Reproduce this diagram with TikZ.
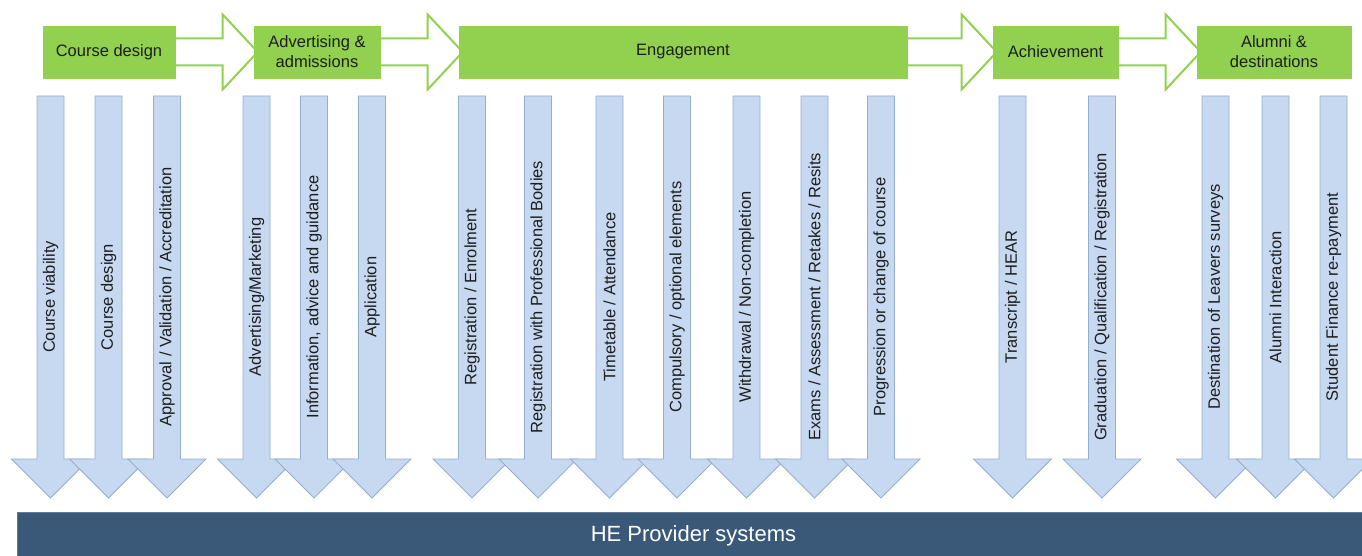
\documentclass[tikz,border=0pt]{standalone}
\usepackage{fontspec}
\setmainfont{Liberation Sans}
\usetikzlibrary{calc,backgrounds}
\definecolor{grn}{HTML}{92D050}
\definecolor{bfill}{HTML}{C6D9F1}
\definecolor{bline}{HTML}{94AECF}
\definecolor{navy}{HTML}{3A5878}
\definecolor{txt}{HTML}{1E1E1E}
\tikzset{
  stage/.style={fill=grn, draw=grn, line width=0.6pt, minimum height=52pt, inner sep=0pt,
    font=\fontsize{16.5}{20}\selectfont, text=txt, align=center},
  flow/.style={draw=grn, fill=white, line width=2pt, line join=miter},
  barrow/.style={draw=bline, fill=bfill, line width=0.8pt},
  blabel/.style={rotate=90, inner sep=0pt, font=\fontsize{16.5}{20}\selectfont, text=txt},
  base/.style={fill=navy, draw=navy!80!white, minimum width=1353pt, minimum height=48pt,
    inner sep=0pt, text=white, font=\fontsize{22}{26}\selectfont}
}
\newcommand{\blockarrow}[3]{%
  \draw[barrow] (#2-13.5,96) -- (#2-13.5,459) -- (#2-39,459) -- (#2,498) -- (#2+39,459) -- (#2+13.5,459) -- (#2+13.5,96) -- cycle;
  \node[blabel] (#1) at (#2,297) {#3};
}
\newcommand{\flowarrow}[2]{%
  \draw[flow] ($(#1.east)+(0,-13.5)$) -- ($(#2.west)+(-31,-13.5)$) -- ($(#2.west)+(-31,-37.5)$)
    -- ($(#2.west)+(4,0)$) -- ($(#2.west)+(-31,37.5)$) -- ($(#2.west)+(-31,13.5)$)
    -- ($(#1.east)+(0,13.5)$);
}
\begin{document}
\begin{tikzpicture}[x=1pt,y=-1pt]
\useasboundingbox (0,0) rectangle (1362,556);
\clip (0,0) rectangle (1362,556);
% stage boxes
\node[stage, minimum width=132pt] (s1) at (109,52) {Course design};
\node[stage, minimum width=126pt] (s2) at (317,52) {Advertising \&\\admissions};
\node[stage, minimum width=448pt] (s3) at (683,52) {Engagement};
\node[stage, minimum width=125pt] (s4) at (1055.5,52) {Achievement};
\node[stage, minimum width=154pt] (s5) at (1274,52) {Alumni \&\\destinations};
\begin{scope}[on background layer]
\flowarrow{s1}{s2}
\flowarrow{s2}{s3}
\flowarrow{s3}{s4}
\flowarrow{s4}{s5}
\end{scope}
% down arrows
\blockarrow{a1}{50.5}{Course viability}
\blockarrow{a2}{108.5}{Course design}
\blockarrow{a3}{167}{Approval / Validation / Accreditation}
\blockarrow{a4}{256.5}{Advertising/Marketing}
\blockarrow{a5}{314}{Information, advice and guidance}
\blockarrow{a6}{372}{Application}
\blockarrow{a7}{472}{Registration / Enrolment}
\blockarrow{a8}{538}{Registration with Professional Bodies}
\blockarrow{a9}{609.5}{Timetable / Attendance}
\blockarrow{a10}{677}{Compulsory / optional elements}
\blockarrow{a11}{746.5}{Withdrawal / Non-completion}
\blockarrow{a12}{814.5}{Exams / Assessment / Retakes / Resits}
\blockarrow{a13}{881}{Progression or change of course}
\blockarrow{a14}{1012.5}{Transcript / HEAR}
\blockarrow{a15}{1102}{Graduation / Qualification / Registration}
\blockarrow{a16}{1215.5}{Destination of Leavers surveys}
\blockarrow{a17}{1275.5}{Alumni Interaction}
\blockarrow{a18}{1333.5}{Student Finance re-payment}
% base bar
\node[base] (he) at (693.5,536) {HE Provider systems};
\end{tikzpicture}
\end{document}
